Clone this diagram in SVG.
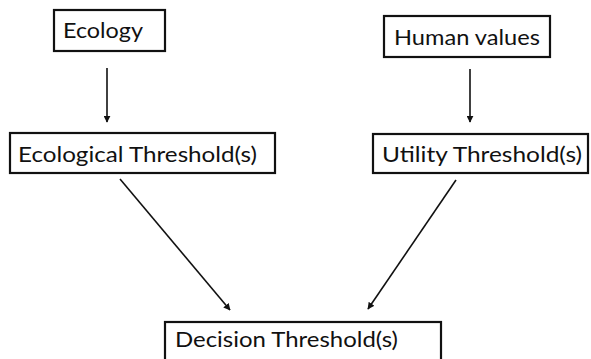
<svg xmlns="http://www.w3.org/2000/svg" width="591" height="359" viewBox="0 0 591 359">
  <style>
    .box { fill: #ffffff; stroke: #111111; stroke-width: 2.2; }
    .label { font-family: "Lato", "Open Sans", "Liberation Sans", sans-serif; font-size: 21px; fill: #111111; }
    .edge { stroke: #111111; stroke-width: 1.6; fill: none; marker-end: url(#head); }
  </style>
  <defs>
    <marker id="head" viewBox="0 0 10 10" refX="9" refY="5" markerWidth="7" markerHeight="7" markerUnits="userSpaceOnUse" orient="auto">
      <path d="M0,0 L10,5 L0,10 z" fill="#111111"/>
    </marker>
  </defs>
  <rect width="591" height="359" fill="#ffffff"/>

  <g id="connectors">
    <line class="edge" x1="107" y1="68" x2="107" y2="122"/>
    <line class="edge" x1="470" y1="69" x2="470" y2="122"/>
    <line class="edge" x1="120" y1="179" x2="230" y2="310"/>
    <line class="edge" x1="456" y1="180" x2="368" y2="309"/>
  </g>

  <g id="ecology">
    <rect class="box" x="54" y="10" width="111" height="41"/>
    <text class="label" x="63" y="38" textLength="80" lengthAdjust="spacingAndGlyphs">Ecology</text>
  </g>

  <g id="human-values">
    <rect class="box" x="384" y="16" width="166" height="41"/>
    <text class="label" x="394" y="45" textLength="146" lengthAdjust="spacingAndGlyphs">Human values</text>
  </g>

  <g id="ecological-threshold">
    <rect class="box" x="10" y="133" width="265" height="40"/>
    <text class="label" x="18" y="162" textLength="239" lengthAdjust="spacingAndGlyphs">Ecological Threshold(s)</text>
  </g>

  <g id="utility-threshold">
    <rect class="box" x="373" y="134" width="215" height="39"/>
    <text class="label" x="382" y="162" textLength="200" lengthAdjust="spacingAndGlyphs">Utility Threshold(s)</text>
  </g>

  <g id="decision-threshold">
    <rect class="box" x="165" y="322" width="276" height="50"/>
    <text class="label" x="175" y="347" textLength="223" lengthAdjust="spacingAndGlyphs">Decision Threshold(s)</text>
  </g>
</svg>
